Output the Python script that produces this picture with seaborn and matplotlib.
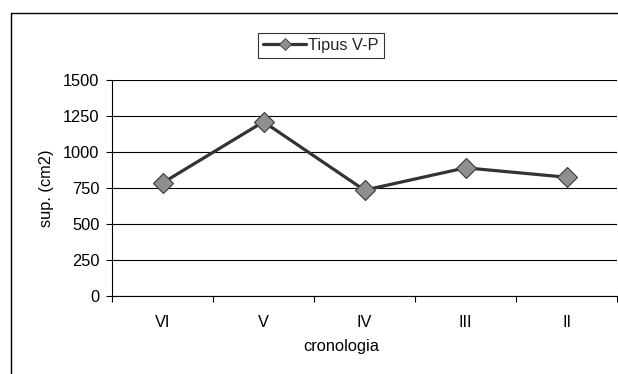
import matplotlib
matplotlib.use("Agg")
import matplotlib.pyplot as plt
import seaborn as sns
import pandas as pd
from matplotlib.lines import Line2D

categories = ["VI", "V", "IV", "III", "II"]
values = [785, 1210, 735, 890, 825]
yticks = [0, 250, 500, 750, 1000, 1250, 1500]
series_name = "Tipus V-P"

sns.set_theme(style="white")
plt.rcParams['font.family'] = ['Liberation Sans', 'DejaVu Sans']

df = pd.DataFrame({"cronologia": categories, "sup": values})

W, H = 618, 374
FS = 11.8
fig = plt.figure(figsize=(W / 100, H / 100), dpi=100)
ax = fig.add_axes([112 / W, (H - 296) / H, (617 - 112) / W, (296 - 80) / H])

sns.lineplot(data=df, x="cronologia", y="sup", sort=False, ax=ax,
             color="#333333", linewidth=2.3, marker="D", markersize=10,
             markerfacecolor="#8f8f8f", markeredgecolor="#3a3a3a",
             markeredgewidth=0.8, label=series_name, zorder=3)

ax.set_xlim(-0.5, len(categories) - 0.5)
ax.set_ylim(0, 1500)
ax.set_yticks(yticks)
ax.set_yticklabels([str(v) for v in yticks])
ax.set_xticks(range(len(categories)))
ax.set_xticklabels(categories)
ax.set_xticks([i - 0.5 for i in range(len(categories) + 1)], minor=True)
ax.tick_params(axis="x", which="major", length=0, pad=14, labelsize=FS, colors="black")
ax.tick_params(axis="x", which="minor", length=4, width=0.8, direction="out", bottom=True, color="black")
ax.tick_params(axis="y", which="major", length=4, width=0.8, direction="out", left=True, pad=5, labelsize=FS, colors="black")

ax.yaxis.grid(True, color="black", linewidth=0.8)
ax.xaxis.grid(False)
ax.set_axisbelow(True)
for s in ["top", "right"]:
    ax.spines[s].set_visible(False)
for s in ["left", "bottom"]:
    ax.spines[s].set_color("black")
    ax.spines[s].set_linewidth(0.8)

ax.set_xlabel("cronologia", fontsize=FS, labelpad=7, color="black")
ax.xaxis.set_label_coords((341 - 112) / (617 - 112), -0.2)
ax.set_ylabel("sup. (cm2)", fontsize=FS, labelpad=8, color="black")
ax.yaxis.set_label_coords(-(112 - 54) / (617 - 112), 0.5)

handle = Line2D([], [], color="#333333", linewidth=2.3, marker="D", markersize=6,
                markerfacecolor="#8f8f8f", markeredgecolor="#3a3a3a", markeredgewidth=0.6)
leg = ax.legend([handle], [series_name], loc="center", bbox_to_anchor=(321 / W, 1 - 45.5 / H),
                bbox_transform=fig.transFigure, frameon=True, fancybox=False,
                edgecolor="black", fontsize=FS, handlelength=2.6, handletextpad=0.15,
                borderpad=0.3, borderaxespad=0)
leg.get_frame().set_linewidth(0.8)

# outer chart frame (left and top edges visible)
fig.add_artist(Line2D([11 / W, 11 / W], [0, 1 - 12.5 / H], transform=fig.transFigure,
                      color="black", linewidth=1.0))
fig.add_artist(Line2D([11 / W, 1.0], [1 - 12.5 / H, 1 - 12.5 / H], transform=fig.transFigure,
                      color="black", linewidth=1.0))

fig.savefig("out.png", dpi=100)
